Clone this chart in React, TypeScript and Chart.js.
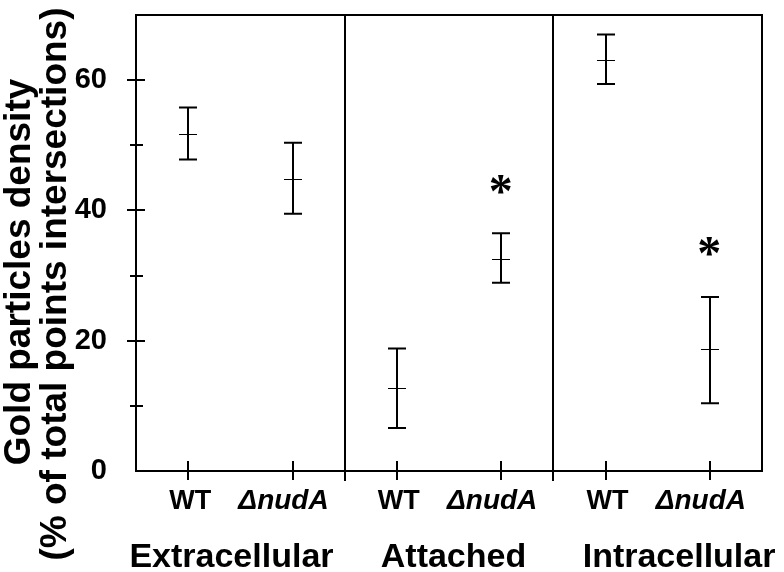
import React, { useEffect, useRef } from "react";
import { Chart, registerables } from "chart.js";

Chart.register(...registerables);

// ---- data ----
const categories = ["WT", "ΔnudA", "WT", "ΔnudA", "WT", "ΔnudA"];
const groups = ["Extracellular", "Attached", "Intracellular"];
const means = [51.8, 44.9, 12.7, 32.6, 63.1, 18.7];
const lowerBounds = [47.8, 39.5, 6.6, 28.9, 59.4, 10.4];
const upperBounds = [55.8, 50.4, 18.8, 36.5, 67.0, 26.7];
const significantIndex = [3, 5];
const significantMarkY = [44.0, 34.5];
const yTickValues = [0, 10, 20, 30, 40, 50, 60];
const yLabeledTicks = [0, 20, 40, 60];
const yMinorTicks = [10, 30, 50];
const yMajorTicks = [20, 40, 60];
const yTitle = ["Gold particles density", "(% of total points intersections)"];

const FONT = "'Liberation Sans', Arial, sans-serif";

// layout helpers (not data)
const groupLabelX = [0.415, 2.543, 4.705];
const separators = [1.5, 3.5];

const drawPlugin = {
  id: "customDraw",
  afterDraw(chart: any) {
    const { ctx, chartArea, scales } = chart;
    const xs = scales.x;
    const ys = scales.y;
    const { left, right, top, bottom } = chartArea;
    ctx.save();
    ctx.strokeStyle = "#000";
    ctx.fillStyle = "#000";
    ctx.lineCap = "butt";

    // frame
    ctx.lineWidth = 2;
    ctx.strokeRect(left, top, right - left, bottom - top);

    // separators
    separators.forEach((s) => {
      const px = Math.round(xs.getPixelForValue(s));
      ctx.beginPath();
      ctx.moveTo(px, top);
      ctx.lineTo(px, bottom + 10);
      ctx.stroke();
    });

    // x ticks
    categories.forEach((_, i) => {
      const px = Math.round(xs.getPixelForValue(i));
      ctx.beginPath();
      ctx.moveTo(px, bottom - 10);
      ctx.lineTo(px, bottom + 9);
      ctx.stroke();
    });

    // x tick labels
    ctx.textAlign = "center";
    ctx.textBaseline = "alphabetic";
    categories.forEach((c, i) => {
      const px = xs.getPixelForValue(i);
      const italic = c !== "WT";
      ctx.font = italic ? `italic bold 28px ${FONT}` : `bold 27px ${FONT}`;
      ctx.fillText(c, px + (italic ? -9 : 2), 509);
    });

    // y ticks
    yMajorTicks.forEach((v) => {
      const py = Math.round(ys.getPixelForValue(v));
      ctx.beginPath();
      ctx.moveTo(left - 9, py);
      ctx.lineTo(left + 9, py);
      ctx.stroke();
    });
    yMinorTicks.forEach((v) => {
      const py = Math.round(ys.getPixelForValue(v));
      ctx.beginPath();
      ctx.moveTo(left - 6, py);
      ctx.lineTo(left + 7, py);
      ctx.stroke();
    });

    // error bars
    means.forEach((m, i) => {
      const px = Math.round(xs.getPixelForValue(i));
      const pLo = ys.getPixelForValue(lowerBounds[i]);
      const pHi = ys.getPixelForValue(upperBounds[i]);
      const pM = ys.getPixelForValue(m);
      ctx.lineWidth = 2;
      ctx.beginPath();
      ctx.moveTo(px, pHi);
      ctx.lineTo(px, pLo);
      ctx.moveTo(px - 9, pHi);
      ctx.lineTo(px + 9, pHi);
      ctx.moveTo(px - 9, pLo);
      ctx.lineTo(px + 9, pLo);
      ctx.stroke();
      ctx.lineWidth = 1;
      ctx.beginPath();
      ctx.moveTo(px - 9, Math.round(pM) + 0.5);
      ctx.lineTo(px + 9, Math.round(pM) + 0.5);
      ctx.stroke();
    });

    // significance asterisks
    ctx.font = "bold 48px 'Liberation Serif', 'Times New Roman', serif";
    ctx.textAlign = "left";
    ctx.textBaseline = "alphabetic";
    significantIndex.forEach((idx, k) => {
      const px = xs.getPixelForValue(idx);
      const py = ys.getPixelForValue(significantMarkY[k]);
      const m = ctx.measureText("*");
      const w = m.actualBoundingBoxRight + m.actualBoundingBoxLeft;
      const h = m.actualBoundingBoxAscent + m.actualBoundingBoxDescent;
      const x0 = px - w / 2 + m.actualBoundingBoxLeft;
      const y0 = py - h / 2 + m.actualBoundingBoxAscent;
      ctx.fillText("*", x0, y0);
    });

    // group labels
    ctx.font = `bold 34px ${FONT}`;
    ctx.textAlign = "center";
    ctx.textBaseline = "alphabetic";
    groups.forEach((g, i) => {
      ctx.fillText(g, xs.getPixelForValue(groupLabelX[i]), 567);
    });

    // y title (two lines, rotated)
    ctx.font = `bold 37px ${FONT}`;
    ctx.textBaseline = "middle";
    ctx.textAlign = "center";
    const lineX = [20, 56];
    const lineY = [272, 284];
    yTitle.forEach((t, i) => {
      ctx.save();
      ctx.translate(lineX[i], lineY[i]);
      ctx.rotate(-Math.PI / 2);
      ctx.fillText(t, 0, 0);
      ctx.restore();
    });

    ctx.restore();
  },
};

export default function App() {
  const ref = useRef<HTMLCanvasElement>(null);
  useEffect(() => {
    if (!ref.current) return;
    const chart = new Chart(ref.current, {
      type: "scatter",
      data: {
        datasets: [
          {
            data: means.map((m, i) => ({ x: i, y: m })),
            pointRadius: 0,
            showLine: false,
          },
        ],
      },
      options: {
        animation: false,
        responsive: false,
        devicePixelRatio: 1,
        layout: { padding: { left: 0, top: 15, right: 22, bottom: 0 } },
        plugins: {
          legend: { display: false },
          tooltip: { enabled: false },
        },
        scales: {
          x: {
            type: "linear",
            min: -0.5,
            max: 5.5,
            afterBuildTicks: (scale: any) => {
              scale.ticks = categories.map((_, i) => ({ value: i }));
            },
            afterFit: (scale: any) => {
              scale.height = 101;
              scale.paddingLeft = 0;
              scale.paddingRight = 0;
            },
            grid: { display: false },
            border: { display: false },
            ticks: { display: false },
          },
          y: {
            type: "linear",
            min: 0,
            max: 70,
            afterBuildTicks: (scale: any) => {
              scale.ticks = yTickValues.map((v) => ({ value: v }));
            },
            afterFit: (scale: any) => {
              scale.width = 136;
              scale.paddingTop = 0;
              scale.paddingBottom = 0;
            },
            grid: { display: false },
            border: { display: false },
            ticks: {
              autoSkip: false,
              padding: 21,
              color: "#000",
              callback: (v: any) => (yLabeledTicks.includes(v) ? String(v) : ""),
              font: { family: FONT, size: 29, weight: "bold" },
            },
          },
        },
      },
      plugins: [drawPlugin],
    });
    return () => chart.destroy();
  }, []);
  return (
    <div style={{ position: "absolute", left: 0, top: 0, width: 784, height: 572, background: "#fff" }}>
      <canvas ref={ref} width={784} height={572} />
    </div>
  );
}
